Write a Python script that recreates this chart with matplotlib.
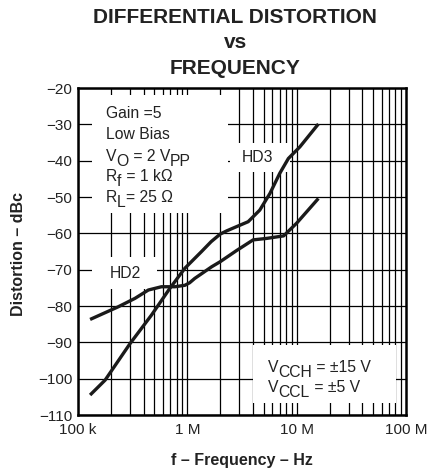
import numpy as np
import matplotlib
matplotlib.use('Agg')
import matplotlib.pyplot as plt
from matplotlib.patches import Rectangle

plt.rcParams['font.family'] = ['Liberation Sans', 'DejaVu Sans']

# frequencies in MHz, distortion in dBc
hd3_f = [0.129, 0.177, 0.30, 0.47, 0.69, 0.95, 1.35, 1.65, 2.0, 2.3, 2.7, 3.6, 4.6, 5.7, 7.0, 8.4, 10.7, 15.8]
hd3_db = [-104.5, -100.4, -90.3, -82.5, -75.2, -69.6, -65.0, -62.3, -60.2, -59.3, -58.4, -56.8, -53.6, -49.0, -43.5, -39.4, -36.2, -29.9]
hd2_f = [0.129, 0.234, 0.332, 0.44, 0.58, 0.77, 0.95, 1.05, 1.17, 1.67, 2.0, 2.8, 4.0, 5.3, 7.6, 10.0, 15.8]
hd2_db = [-83.7, -80.2, -77.9, -75.6, -74.7, -74.7, -74.3, -73.6, -72.4, -69.2, -67.8, -64.8, -61.8, -61.4, -60.7, -57.2, -50.4]

xticks = [1e5, 1e6, 1e7, 1e8]
xticklabels = ['100 k', '1 M', '10 M', '100 M']
yticks = list(range(-110, -19, 10))

fig = plt.figure(figsize=(4.29, 4.69), dpi=100)
ax = fig.add_axes([78 / 429, 54 / 469, 328 / 429, 327 / 469])

ax.plot(np.array(hd3_f) * 1e6, hd3_db, color='#1a1a1a', lw=2.4, zorder=3,
        solid_capstyle='butt', solid_joinstyle='round')
ax.plot(np.array(hd2_f) * 1e6, hd2_db, color='#1a1a1a', lw=2.4, zorder=3,
        solid_capstyle='butt', solid_joinstyle='round')

ax.set_xscale('log')
ax.set_xlim(1e5, 1e8)
ax.set_ylim(-110, -20)
ax.set_xticks(xticks)
ax.set_xticklabels(xticklabels)
ax.set_yticks(yticks)
ax.minorticks_off()
ax.tick_params(length=0, labelsize=11, pad=6, labelcolor='#222222')
ax.tick_params(axis='y', pad=4)

# grid: decades with 2..9 minor lines, 10 dB horizontals
for dec in [1e5, 1e6, 1e7]:
    for m in range(1, 10):
        ax.axvline(dec * m, color='black', lw=0.9, zorder=0.5)
for yv in yticks:
    ax.axhline(yv, color='black', lw=0.9, zorder=0.5)
for s in ax.spines.values():
    s.set_linewidth(1.8)

# white boxes that cut the grid under the notes
for (x0, y0, w, h) in [(0.043, 0.618, 0.414, 0.361),
                       (0.463, 0.743, 0.183, 0.089),
                       (0.043, 0.385, 0.198, 0.098),
                       (0.534, 0.037, 0.436, 0.177)]:
    ax.add_patch(Rectangle((x0, y0), w, h, transform=ax.transAxes,
                           facecolor='white', edgecolor='none', zorder=1))


def parts_text(x, y, parts, size=11.3):
    # chain text pieces; dy lowers a piece (subscript)
    t = ax.text(x, y, parts[0][0], transform=ax.transAxes, fontsize=size,
                va='baseline', zorder=4, color='#222222')
    prev_dy = parts[0][1]
    for s, dy in parts[1:]:
        t = ax.annotate(s, xy=(1, 0), xycoords=t, xytext=(0, dy - prev_dy),
                        textcoords='offset points', va='bottom', fontsize=size,
                        zorder=4, color='#222222')
        prev_dy = dy


sub = -3.5
parts_text(0.085, 0.908, [('Gain =5', 0)])
parts_text(0.085, 0.844, [('Low Bias', 0)])
parts_text(0.085, 0.777, [('V', 0), ('O', sub), (' = 2 V', 0), ('PP', sub)])
parts_text(0.085, 0.716, [('R', 0), ('f', sub), (' = 1 k\u03a9', 0)])
parts_text(0.085, 0.651, [('R', 0), ('L', sub), ('= 25 \u03a9', 0)])
parts_text(0.579, 0.132, [('V', 0), ('CCH', sub), (' = \u00b115 V', 0)])
parts_text(0.579, 0.071, [('V', 0), ('CCL', sub), (' = \u00b15 V', 0)])

ax.text(0.546, 0.774, 'HD3', transform=ax.transAxes, fontsize=11.3, ha='center', va='baseline', zorder=4, color='#222222')
ax.text(0.145, 0.419, 'HD2', transform=ax.transAxes, fontsize=11.3, ha='center', va='baseline', zorder=4, color='#222222')

fig.text(0.548, 1 - 22.7 / 469, 'DIFFERENTIAL DISTORTION', ha='center', va='baseline', fontsize=15, fontweight='bold', color='#222222')
fig.text(0.548, 1 - 48.3 / 469, 'vs', ha='center', va='baseline', fontsize=15, fontweight='bold', color='#222222')
fig.text(0.548, 1 - 74 / 469, 'FREQUENCY', ha='center', va='baseline', fontsize=15, fontweight='bold', color='#222222')

fig.text(242 / 429, 1 - 460 / 469, 'f \u2013 Frequency \u2013 Hz', ha='center', va='center', fontsize=11.5, fontweight='bold', color='#222222')
fig.text(18.5 / 429, 1 - 254 / 469, 'Distortion \u2013 dBc', ha='center', va='center', rotation=90, fontsize=11.5, fontweight='bold', color='#222222')

fig.savefig('out.png', dpi=100)
